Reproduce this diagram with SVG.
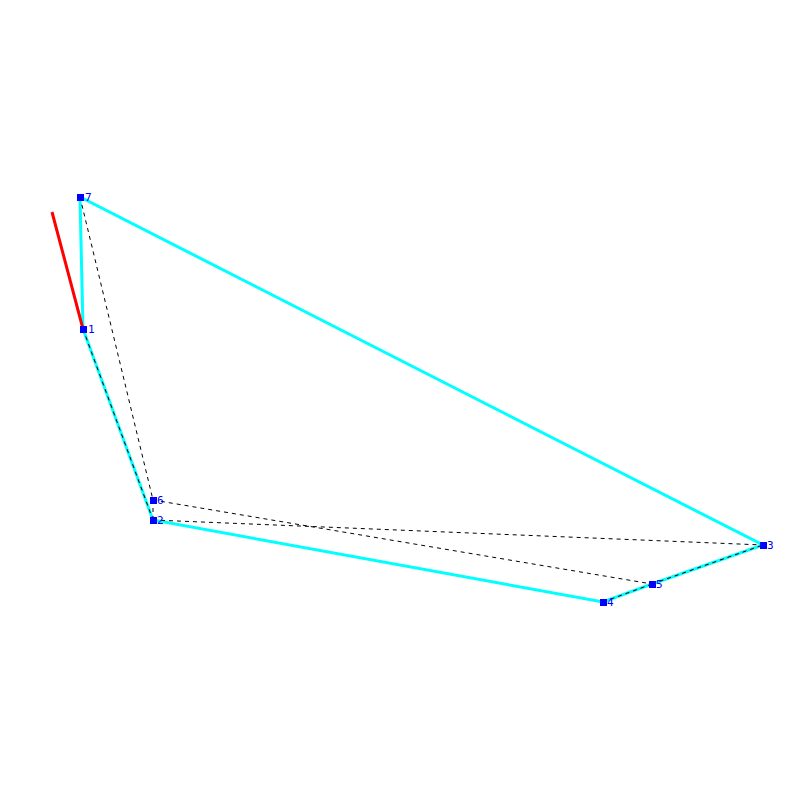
<svg xmlns="http://www.w3.org/2000/svg" width="800" height="800" viewBox="0 0 800 800">
<style>
.edge{stroke:#00ffff;stroke-width:3;fill:none}
.dash{stroke:#000;stroke-width:1;stroke-dasharray:4,4;fill:none}
.pt{fill:#0000ff}
.lbl{fill:#0000ff;font-family:"DejaVu Sans Mono",monospace;font-size:11px}
</style>
<rect width="800" height="800" fill="#fff"/>
<g id="connectors">
<polygon class="edge" points="80,197 83,329 153,520 603,602 652,584 763,545"/>
<line x1="52" y1="212" x2="83" y2="329" stroke="#ff0000" stroke-width="3"/>
<line class="dash" x1="80" y1="197" x2="153" y2="500"/>
<line class="dash" x1="153" y1="500" x2="652" y2="584"/>
<line class="dash" x1="153" y1="520" x2="763" y2="545"/>
<line class="dash" x1="153" y1="500" x2="153" y2="520"/>
<line class="dash" x1="83" y1="329" x2="153" y2="520"/>
<line class="dash" x1="603" y1="602" x2="652" y2="584"/>
<line class="dash" x1="652" y1="584" x2="763" y2="545"/>
</g>
<g id="n7"><rect class="pt" x="77" y="194" width="7" height="7"/><text class="lbl" x="85" y="201">7</text></g>
<g id="n1"><rect class="pt" x="80" y="326" width="7" height="7"/><text class="lbl" x="88" y="333">1</text></g>
<g id="n6"><rect class="pt" x="150" y="497" width="7" height="7"/><text class="lbl" x="157" y="504">6</text></g>
<g id="n2"><rect class="pt" x="150" y="517" width="7" height="7"/><text class="lbl" x="157" y="524">2</text></g>
<g id="n3"><rect class="pt" x="760" y="542" width="7" height="7"/><text class="lbl" x="767" y="549">3</text></g>
<g id="n4"><rect class="pt" x="600" y="599" width="7" height="7"/><text class="lbl" x="607" y="606">4</text></g>
<g id="n5"><rect class="pt" x="649" y="581" width="7" height="7"/><text class="lbl" x="656" y="588">5</text></g>
</svg>
